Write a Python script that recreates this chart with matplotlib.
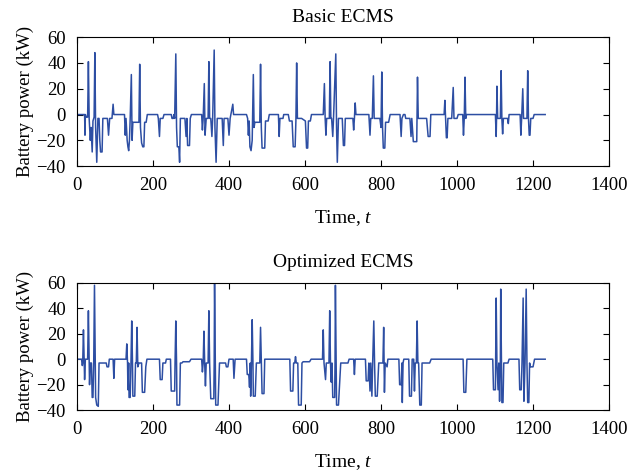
import matplotlib
matplotlib.use("Agg")
import matplotlib.pyplot as plt

plt.rcParams["font.family"] = ["Liberation Serif", "DejaVu Serif"]
plt.rcParams["mathtext.fontset"] = "custom"
plt.rcParams["mathtext.it"] = "Liberation Serif:italic"
plt.rcParams["mathtext.rm"] = "Liberation Serif"

# Basic ECMS: time (s) and battery power (kW) breakpoints
t_basic = [0, 20, 21, 22, 24, 28, 30, 32, 35, 37, 40, 42, 45, 47, 49, 52, 55, 58, 60, 62,
           66, 68, 80, 83, 86, 92, 95, 97, 125, 127, 129, 132, 134, 136, 138, 140, 143, 145,
           147, 163, 165, 167, 170, 173, 176, 178, 182, 185, 212, 214, 217, 219, 226, 229,
           248, 250, 253, 255, 257, 260, 262, 264, 268, 270, 272, 284, 287, 289, 291, 296,
           298, 301, 328, 330, 332, 335, 337, 340, 345, 347, 349, 352, 355, 357, 361, 363,
           366, 369, 382, 385, 387, 397, 400, 403, 410, 412, 446, 449, 451, 453, 455, 458,
           461, 462, 464, 466, 468, 481, 483, 485, 487, 494, 496, 503, 506, 530, 532, 534,
           542, 544, 556, 559, 566, 569, 574, 576, 578, 580, 591, 601, 604, 607, 609, 614,
           617, 648, 651, 653, 655, 657, 664, 666, 668, 670, 673, 675, 681, 683, 685, 688,
           698, 701, 704, 706, 726, 728, 730, 732, 734, 768, 771, 773, 777, 780, 782, 797,
           800, 802, 804, 806, 810, 812, 820, 824, 850, 853, 855, 859, 863, 865, 876, 879,
           881, 885, 894, 896, 898, 920, 924, 929, 931, 966, 968, 970, 972, 974, 976, 986,
           990, 992, 1000, 1003, 1015, 1017, 1019, 1021, 1023, 1025, 1101, 1103, 1104, 1105,
           1107, 1114, 1116, 1118, 1120, 1122, 1133, 1135, 1137, 1166, 1168, 1170, 1173,
           1175, 1184, 1186, 1188, 1190, 1192, 1194, 1200, 1203, 1232]
p_basic = [0, 0, -16, 0, -2, -2, 41, -3, -20, -10, -29, -5, -2, 48, -10, -37, -3, -3, -20, -29,
           -29, -3, -3, -16, -3, -3, 8, 0, 0, -16, -3, -20, -25, -28, -20, -3, 31, -20,
           -6, -6, 39, -10, -22, -25, -25, -6, -6, 0, 0, -3, -17, -3, -3, 0,
           0, -3, -3, 0, -3, 47, -10, -25, -25, -37, -3, -3, -17, -3, -24, -24,
           -3, 0, 0, -12, -3, 24, -16, -3, -3, 41, -3, -3, -17, -3, 50, -10,
           -37, -3, -3, -24, -3, -3, -16, -3, 8, 0, 0, -3, -16, -5, -25, -28,
           -20, -3, 31, -10, -6, -6, 39, -10, -26, -26, -5, -5, 0, 0, -17, -3,
           -3, 0, 0, -5, -5, -25, -25, -5, 40, -3, -3, -5, -26, -26, -5, -5,
           0, 0, 24, -3, -16, -3, -3, 41, -3, -3, -17, -3, 47, -10, -37, -3,
           -3, -24, -24, -3, -3, -12, -3, 9, 0, 0, -16, -3, -3, 30, -3, -3,
           -10, 33, -10, -26, -26, -6, -6, 0, 0, -17, -3, 0, 0, -3, -3, -17,
           -3, -21, -21, 29, -3, -3, -17, -17, 0, 0, 11, -3, -18, -18, -3, -3,
           21, -3, -3, 0, 0, -16, -3, 29, -3, 0, 0, -17, -3, 22,
           -3, -3, 34, -3, -15, -3, -3, -7, 0, 0, -16, -3, 20,
           -3, -3, 34, -3, -16, -16, -3, -3, 0, 0]

# Optimized ECMS
t_opt = [0, 12, 14, 15, 17, 19, 20, 22, 28, 30, 32, 33, 35, 38, 40, 42, 44, 46, 48, 49,
         52, 56, 58, 77, 79, 83, 85, 95, 97, 99, 129, 131, 133, 134, 136, 137, 140, 142,
         144, 146, 147, 152, 154, 156, 158, 160, 163, 170, 172, 178, 181, 184, 217, 219,
         224, 226, 233, 235, 246, 248, 257, 258, 260, 262, 263, 270, 272, 276, 279, 296,
         300, 328, 330, 332, 334, 336, 338, 340, 345, 347, 349, 352, 360, 361, 362, 364,
         365, 371, 375, 391, 393, 397, 400, 411, 413, 416, 446, 448, 452, 454, 456, 457,
         459, 461, 463, 464, 469, 472, 481, 483, 485, 487, 492, 494, 560, 562, 568, 570,
         573, 575, 577, 581, 583, 590, 592, 595, 612, 616, 646, 648, 650, 654, 656, 663,
         665, 667, 669, 671, 673, 678, 679, 680, 682, 683, 688, 694, 713, 716, 728, 730,
         732, 759, 761, 766, 768, 771, 773, 776, 778, 781, 783, 785, 790, 794, 805, 807,
         809, 811, 816, 818, 847, 849, 853, 855, 856, 858, 860, 873, 875, 880, 882, 886,
         888, 890, 893, 895, 897, 899, 902, 906, 908, 928, 932, 1016, 1018, 1023, 1026,
         1094, 1096, 1101, 1103, 1105, 1108, 1110, 1112, 1114, 1115, 1117, 1118, 1121,
         1123, 1134, 1137, 1163, 1165, 1169, 1171, 1174, 1176, 1179, 1182, 1184, 1186,
         1189, 1191, 1193, 1200, 1204, 1232]
p_opt = [0, 0, -5, -3, 23, -3, -16, 0, 0, 38, 0, -20, -3, -3, -30, -30, -3, 58, -3, -30,
         -36, -37, -3, -3, -6, -6, 0, 0, -15, 0, 0, 12, -3, -24, -3, -30, -30, -3,
         30, -3, -29, -29, -3, -3, 25, -6, -3, -3, -26, -26, -6, 0, 0, -16,
         -16, -3, -3, 0, 0, -25, -25, -3, 30, -3, -36, -36, -3, -3, -2, -2,
         0, 0, -10, -3, 22, -3, -21, -3, -3, 38, -3, -31, -31, -3, 59, -3,
         -36, -36, -3, -3, -6, -6, 0, 0, -15, 0, 0, -12, -12, -22, -3, -29,
         -3, 31, -3, -29, -29, -3, -3, 25, -3, -27, -27, 0, 0, -25, -25, -3,
         -3, 2, -3, -3, -36, -36, -3, -2, -2, 0, 0, 23, -3, -16, -3, -3,
         38, -3, -18, -3, -30, -30, -3, 58, -3, -36, -36, -3, -3, 0, 0, -12,
         0, 0, -17, -17, -3, -25, -3, -29, -3, 30, -3, -29, -29, -3, -3, 25,
         -26, -3, -6, 0, 0, -20, -20, -3, -34, -3, 0, 0, -29, -29, 0, 0,
         -25, -3, -3, 30, -3, -3, -36, -36, -3, -3, 0, 0, -26, -26, 0,
         0, -24, -24, 48, -3, -24, -3, -33, -3, 55, -3, -34, -34,
         -3, -3, 0, 0, -24, -24, -3, 48, -33, -3, 55, -3, -34,
         -34, -3, -6, -6, 0, 0]

line_color = "#2d4ea3"

fig = plt.figure(figsize=(6.39, 4.72), dpi=100)
ax1 = fig.add_axes([0.1205, 0.648, 0.8326, 0.2733])
ax2 = fig.add_axes([0.1205, 0.131, 0.8326, 0.270])

for ax, t, p, title in [(ax1, t_basic, p_basic, "Basic ECMS"),
                        (ax2, t_opt, p_opt, "Optimized ECMS")]:
    ax.plot(t, p, color=line_color, linewidth=1.1)
    ax.set_xlim(0, 1400)
    ax.set_ylim(-40, 60)
    ax.set_xticks(range(0, 1401, 200))
    ax.set_yticks(range(-40, 61, 20))
    ax.tick_params(direction="in", top=True, right=True, labelsize=13.5,
                   length=4, pad=8)
    ax.set_title(title, fontsize=14, pad=11)
    ax.set_xlabel(r"Time, $t$", fontsize=14, labelpad=10)
    ax.set_ylabel("Battery power (kW)", fontsize=13.5, labelpad=2)

fig.savefig("out.png", dpi=100)
